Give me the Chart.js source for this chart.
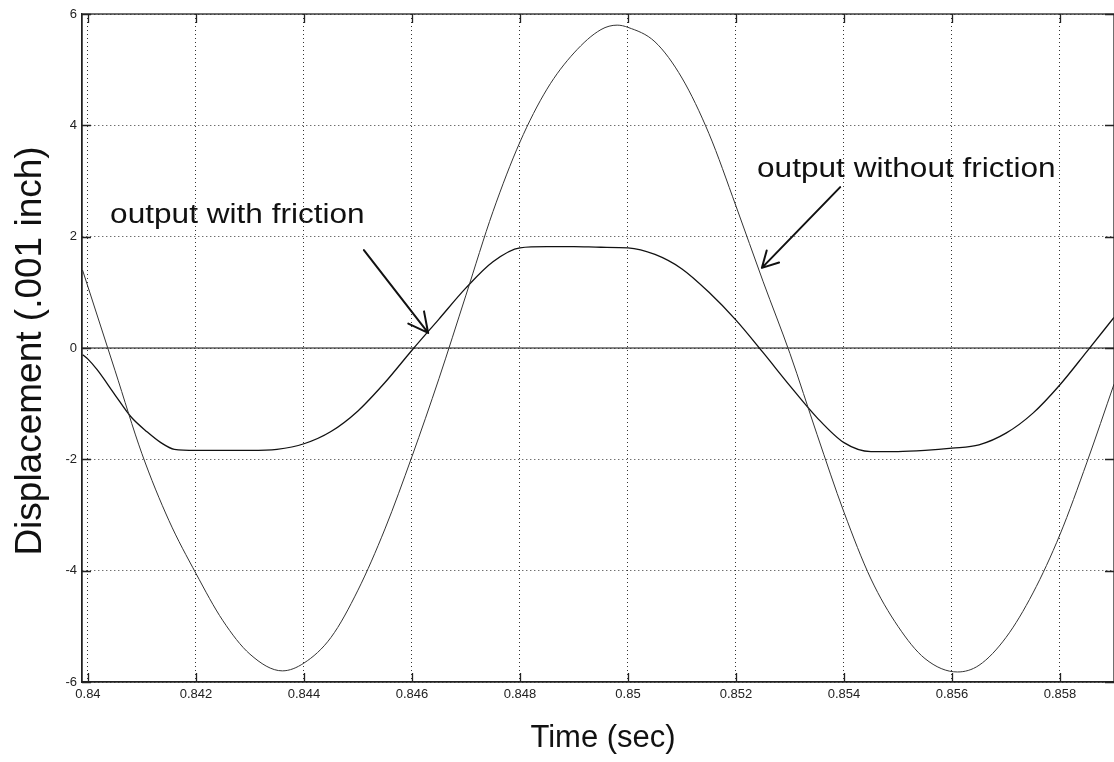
<!DOCTYPE html>
<html>
<head>
<meta charset="utf-8">
<script src="https://cdn.jsdelivr.net/npm/chart.js@4.4.0/dist/chart.umd.min.js"></script>
<style>
  html, body { margin: 0; padding: 0; background: #fff; }
</style>
</head>
<body>
<canvas id="chart" width="1114" height="762"></canvas>
<script>
// ===== data =====
// time in sec, displacement in .001 inch

// output without friction
const tNoFric = [0.8399, 0.8400, 0.8405, 0.8410, 0.8415, 0.8420, 0.8425, 0.8430, 0.8436, 0.8440,
  0.8445, 0.8450, 0.8455, 0.8460, 0.8465, 0.8470, 0.8475, 0.8480, 0.8485, 0.8490,
  0.8495, 0.8498, 0.8500, 0.8505, 0.8510, 0.8515, 0.8520, 0.8525, 0.8530, 0.8535,
  0.8540, 0.8545, 0.8550, 0.8555, 0.8561, 0.8565, 0.8570, 0.8575, 0.8580, 0.8585, 0.8590];
const dNoFric = [1.40, 1.10, -0.40, -1.90, -3.10, -4.05, -4.90, -5.50, -5.80, -5.66,
  -5.20, -4.35, -3.25, -1.95, -0.55, 0.95, 2.45, 3.70, 4.65, 5.30,
  5.72, 5.80, 5.76, 5.50, 4.85, 3.85, 2.55, 1.20, -0.10, -1.55,
  -2.95, -4.15, -5.00, -5.58, -5.82, -5.70, -5.20, -4.40, -3.35, -2.05, -0.65];

// output with friction
const tFric = [0.8399, 0.8400, 0.84017, 0.8405, 0.8408, 0.8411, 0.84135, 0.8416, 0.8420, 0.8425,
  0.8430, 0.8435, 0.8440, 0.8445, 0.8450, 0.8455, 0.8460, 0.8465, 0.8470, 0.8475,
  0.8480, 0.8485, 0.8490, 0.8495, 0.8500, 0.8505, 0.8510, 0.8515, 0.8520, 0.8525,
  0.8530, 0.8535, 0.8540, 0.8545, 0.8550, 0.8555, 0.8560, 0.8565, 0.8570, 0.8575,
  0.8580, 0.8585, 0.8590];
const dFric = [-0.12, -0.20, -0.39, -0.84, -1.24, -1.51, -1.70, -1.82, -1.84, -1.84,
  -1.84, -1.82, -1.72, -1.50, -1.13, -0.62, -0.04, 0.52, 1.08, 1.55,
  1.80, 1.82, 1.82, 1.81, 1.80, 1.68, 1.42, 1.00, 0.50, -0.08,
  -0.68, -1.25, -1.70, -1.86, -1.86, -1.84, -1.80, -1.74, -1.53, -1.17,
  -0.66, -0.06, 0.55];

// zero reference line
const tZero = [0.8398, 0.8591];
const dZero = [0, 0];

const xTicks = [0.840, 0.842, 0.844, 0.846, 0.848, 0.850, 0.852, 0.854, 0.856, 0.858];
const xTickLabels = ['0.84', '0.842', '0.844', '0.846', '0.848', '0.85', '0.852', '0.854', '0.856', '0.858'];
const yTicks = [-6, -4, -2, 0, 2, 4, 6];
const yTickLabels = ['-6', '-4', '-2', '0', '2', '4', '6'];

// hand-drawn notes on the scan (data units)
const notes = [
  { text: 'output with friction', x: 0.84041, y: 2.24 },
  { text: 'output without friction', x: 0.85239, y: 3.07 }
];
const arrows = [
  { from: [0.84511, 1.76], to: [0.8463, 0.27], head: 22, spread: 0.47 },
  { from: [0.85393, 2.89], to: [0.85248, 1.44], head: 18, spread: 0.5 }
];

const pairs = (ts, ds) => ts.map((t, i) => ({ x: t, y: ds[i] }));

const SANS = "'Liberation Sans', Arial, Helvetica, sans-serif";
const NARROW = "'Liberation Sans Narrow', 'Liberation Sans', Arial, sans-serif";

const scanExtras = {
  id: 'scanExtras',
  afterDraw(chart) {
    const { ctx, chartArea: a, scales: { x, y } } = chart;
    ctx.save();

    // frame + inward ticks (matlab style)
    ctx.strokeStyle = '#222';
    ctx.lineWidth = 1.3;
    ctx.strokeRect(a.left, a.top, a.right - a.left, a.bottom - a.top);
    ctx.beginPath();
    xTicks.forEach(v => {
      const px = Math.round(x.getPixelForValue(v)) + 0.5;
      ctx.moveTo(px, a.bottom); ctx.lineTo(px, a.bottom - 9);
      ctx.moveTo(px, a.top); ctx.lineTo(px, a.top + 9);
    });
    yTicks.forEach(v => {
      const py = Math.round(y.getPixelForValue(v)) + 0.5;
      ctx.moveTo(a.left, py); ctx.lineTo(a.left + 9, py);
      ctx.moveTo(a.right, py); ctx.lineTo(a.right - 9, py);
    });
    ctx.stroke();

    // axis titles
    ctx.fillStyle = '#111';
    ctx.font = '31px ' + SANS;
    ctx.textAlign = 'center';
    ctx.textBaseline = 'alphabetic';
    ctx.fillText('Time (sec)', (a.left + a.right) / 2 + 5, a.bottom + 65);

    ctx.save();
    ctx.translate(41, (a.top + a.bottom) / 2 + 3);
    ctx.rotate(-Math.PI / 2);
    ctx.font = '37px ' + SANS;
    ctx.fillText('Displacement (.001 inch)', 0, 0);
    ctx.restore();

    // notes
    ctx.textAlign = 'left';
    ctx.font = '27px ' + SANS;
    notes.forEach(n => {
      ctx.save();
      ctx.translate(x.getPixelForValue(n.x), y.getPixelForValue(n.y));
      ctx.scale(1.17, 1);
      ctx.fillText(n.text, 0, 0);
      ctx.restore();
    });

    // arrows
    ctx.strokeStyle = '#111';
    ctx.lineWidth = 2;
    ctx.lineCap = 'round';
    arrows.forEach(ar => {
      const x0 = x.getPixelForValue(ar.from[0]), y0 = y.getPixelForValue(ar.from[1]);
      const x1 = x.getPixelForValue(ar.to[0]), y1 = y.getPixelForValue(ar.to[1]);
      const ang = Math.atan2(y0 - y1, x0 - x1);
      ctx.beginPath();
      ctx.moveTo(x0, y0); ctx.lineTo(x1, y1);
      [-1, 1].forEach(s => {
        ctx.moveTo(x1, y1);
        ctx.lineTo(x1 + ar.head * Math.cos(ang + s * ar.spread), y1 + ar.head * Math.sin(ang + s * ar.spread));
      });
      ctx.stroke();
    });

    ctx.restore();
  }
};

new Chart(document.getElementById('chart'), {
  type: 'line',
  data: {
    datasets: [
      {
        label: 'output without friction',
        data: pairs(tNoFric, dNoFric),
        borderColor: '#333',
        borderWidth: 1,
        pointRadius: 0,
        cubicInterpolationMode: 'monotone'
      },
      {
        label: 'output with friction',
        data: pairs(tFric, dFric),
        borderColor: '#111',
        borderWidth: 1.3,
        pointRadius: 0,
        cubicInterpolationMode: 'monotone'
      },
      {
        label: 'zero',
        data: pairs(tZero, dZero),
        borderColor: '#111',
        borderWidth: 1.2,
        pointRadius: 0
      }
    ]
  },
  options: {
    responsive: false,
    animation: false,
    layout: { padding: { top: 14, right: 0, left: 0, bottom: 0 } },
    plugins: {
      legend: { display: false },
      tooltip: { enabled: false }
    },
    scales: {
      x: {
        type: 'linear',
        min: 0.83989,
        max: 0.859,
        afterBuildTicks: s => { s.ticks = xTicks.map(v => ({ value: v })); },
        afterFit: s => { s.height = 80; },
        ticks: {
          autoSkip: false,
          maxRotation: 0,
          padding: 5,
          color: '#222',
          font: { family: NARROW, size: 13 },
          callback: (v, i) => xTickLabels[i]
        },
        grid: { color: '#333', lineWidth: 1, drawTicks: false },
        border: { display: true, color: '#222', width: 1.3, dash: [1, 3] }
      },
      y: {
        type: 'linear',
        min: -6,
        max: 6,
        afterBuildTicks: s => { s.ticks = yTicks.map(v => ({ value: v })); },
        afterFit: s => { s.width = 82; },
        ticks: {
          padding: 5,
          color: '#222',
          font: { family: NARROW, size: 13 },
          callback: (v, i) => yTickLabels[i]
        },
        grid: { color: '#333', lineWidth: 1, drawTicks: false },
        border: { display: true, color: '#222', width: 1.3, dash: [1, 3] }
      }
    }
  },
  plugins: [scanExtras]
});
</script>
</body>
</html>
